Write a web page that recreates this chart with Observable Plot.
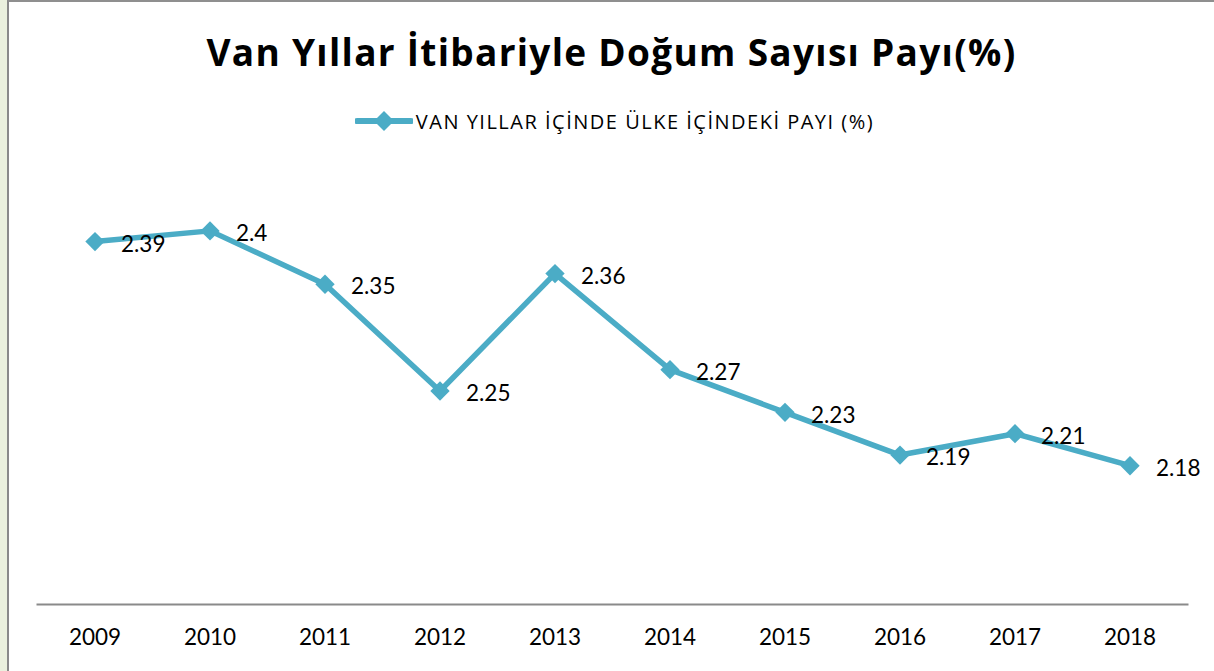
<!DOCTYPE html>
<html>
<head>
<meta charset="utf-8">
<script src="https://cdn.jsdelivr.net/npm/d3@7"></script>
<script src="https://cdn.jsdelivr.net/npm/@observablehq/plot@0.6"></script>
<style>
  html, body { margin: 0; padding: 0; background: #fff; }
  #outer { position: relative; width: 1214px; height: 671px; background: #EBF1DE; overflow: hidden; }
  #inner { position: absolute; left: 7px; top: 0; width: 1207px; height: 671px; box-sizing: border-box;
           border-left: 2px solid #8a8a8a; border-top: 2px solid #8f8f8f; background: #fff;
           font-family: Lato, "Open Sans", sans-serif; }
  #title { height: 94px; line-height: 100px; text-align: center; font-weight: bold; font-size: 37px; color: #000;
           font-family: "Open Sans", sans-serif; letter-spacing: 1.3px; }
  #legend { height: 50px; display: flex; justify-content: center; align-items: center; font-size: 20px; color: #000;
            padding-left: 6px; font-family: "Open Sans", sans-serif; letter-spacing: 1.5px; }
  #legend svg { margin-right: 3px; }
  #chart svg { display: block; }
</style>
</head>
<body>
<div id="outer">
  <div id="inner">
    <div id="title">Van Yıllar İtibariyle Doğum Sayısı Payı(%)</div>
    <div id="legend"></div>
    <div id="chart"></div>
  </div>
</div>
<script>
const years = ["2009","2010","2011","2012","2013","2014","2015","2016","2017","2018"];
const shares = [2.39, 2.4, 2.35, 2.25, 2.36, 2.27, 2.23, 2.19, 2.21, 2.18];
const yDomain = [2.05, 2.45];
const seriesName = "VAN YILLAR İÇİNDE ÜLKE İÇİNDEKİ PAYI (%)";
const lineColor = "#4BACC6";

const data = years.map((y, i) => ({year: y, value: shares[i]}));

// legend
const leg = document.getElementById("legend");
leg.innerHTML = `<svg width="58" height="24"><line x1="2" y1="12" x2="56" y2="12" stroke="${lineColor}" stroke-width="6" stroke-linecap="round"/>
<path d="M29,2 L39,12 L29,22 L19,12 Z" fill="${lineColor}"/></svg><span>${seriesName}</span>`;

const chart = Plot.plot({
  width: 1205,
  height: 525,
  marginLeft: 28,
  marginRight: 27,
  marginTop: 31,
  marginBottom: 67,
  style: {fontFamily: "Lato, 'Open Sans', sans-serif", background: "#fff"},
  x: {type: "band", domain: years, padding: 0, label: null},
  y: {domain: yDomain, axis: null},
  marks: [
    Plot.frame({anchor: "bottom", stroke: "#8a8a8a", strokeWidth: 2}),
    Plot.axisX({tickSize: 0, tickPadding: 25, fontSize: 22.5, fill: "#000", label: null}),
    Plot.line(data, {x: "year", y: "value", stroke: lineColor, strokeWidth: 5.5, strokeLinejoin: "round"}),
    Plot.dot(data, {x: "year", y: "value", symbol: "diamond2", r: 8.7, fill: lineColor, stroke: "none"}),
    Plot.text(data, {x: "year", y: "value", text: d => String(d.value), dx: 26, dy: 3, textAnchor: "start", fontSize: 22.5, fill: "#000"})
  ]
});
document.getElementById("chart").appendChild(chart);
</script>
</body>
</html>
